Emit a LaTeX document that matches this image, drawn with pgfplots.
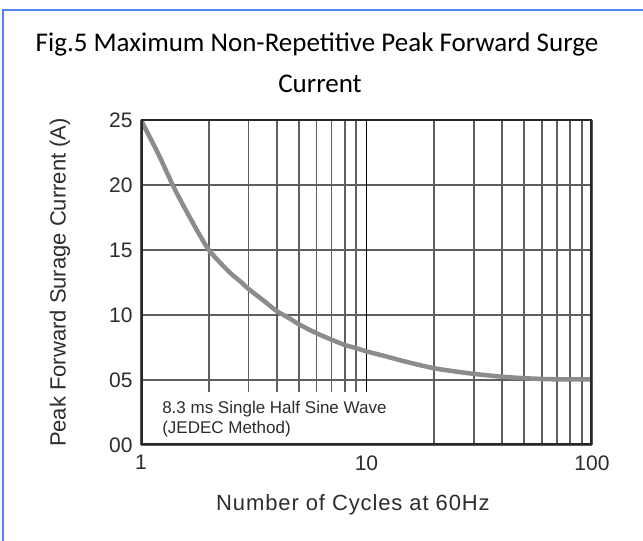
\documentclass[border=0pt]{standalone}
\usepackage{pgfplots}
\pgfplotsset{compat=1.18}
\usepackage{fontspec}
\setmainfont{Liberation Sans}
\newfontfamily\titlefont{Carlito}
\newfontfamily\spacedfont[LetterSpace=4]{Liberation Sans}
\definecolor{framblue}{RGB}{80,130,240}
\definecolor{gridgray}{RGB}{95,95,95}
\definecolor{curvegray}{RGB}{140,140,140}
\definecolor{txtgray}{RGB}{45,45,45}
\begin{document}
\begin{tikzpicture}[x=1pt,y=1pt]
\useasboundingbox (0,0) rectangle (643,541);
\fill[white] (0,0) rectangle (643,541);
% blue frame
\draw[framblue, line width=2pt] (3,0) -- (3,531) -- (643,531);
% title
\node[anchor=base, inner sep=0pt, font=\titlefont\fontsize{27}{30}\selectfont] at (317,489) {Fig.5 Maximum Non-Repetitive Peak Forward Surge};
\node[anchor=base, inner sep=0pt, font=\titlefont\fontsize{27}{30}\selectfont] at (320,448) {Current};
\begin{axis}[
  at={(141pt,96pt)}, anchor=south west,
  scale only axis, width=451pt, height=325pt,
  xmode=log, log basis x=10,
  xmin=1, xmax=100, ymin=0, ymax=25,
  xtick={1,10,100}, xticklabels={1,10,100},
  minor xtick={2,3,4,5,6,7,8,9,20,30,40,50,60,70,80,90},
  ytick={0,5,10,15,20,25}, yticklabels={00,05,10,15,20,25},
  major tick length=0pt, minor tick length=0pt,
  xmajorgrids, xminorgrids, ymajorgrids,
  major grid style={color=gridgray, line width=1.8pt},
  minor grid style={color=gridgray, line width=1.8pt},
  axis line style={draw=none},
  /pgf/number format/assume math mode=true,
  tick label style={font=\fontsize{21}{25}\selectfont, text=txtgray},
  xticklabel style={yshift=-7pt},
  yticklabel style={xshift=-5pt},
  xlabel={Number of Cycles at 60Hz},
  ylabel={Peak Forward Surage Current (A)},
  label style={font=\fontsize{22}{26}\selectfont, text=txtgray},
  xlabel style={font=\spacedfont\fontsize{22}{26}\selectfont, at={(axis description cs:0.47,-0.1846)}, anchor=center},
  ylabel style={at={(axis description cs:-0.1796,0.5)}, anchor=center},
]
% darker line at 10
\draw[black, line width=1.9pt] (axis cs:10,0) -- (axis cs:10,25);
% white legend box
\fill[white] (axis cs:1.04,0.15) rectangle (axis cs:13.2,4.08);
\node[anchor=base west, inner sep=0pt, font=\fontsize{17}{20}\selectfont, text=txtgray] at (axis cs:1.24,2.46) {8.3 ms Single Half Sine Wave};
\node[anchor=base west, inner sep=0pt, font=\fontsize{17}{20}\selectfont, text=txtgray] at (axis cs:1.24,0.85) {(JEDEC Method)};
\addplot[curvegray, line width=4.5pt, smooth] coordinates {
(1,25) (1.1,23.6) (1.2,22.3) (1.3,21.0) (1.4,19.8) (1.5,18.8) (1.6,17.9) (1.8,16.3) (2,15) (2.25,14) (2.5,13.2) (2.75,12.6) (3,12) (3.5,11.1) (4,10.3) (4.5,9.8) (5,9.3) (6,8.6) (7,8.1) (8,7.7) (9,7.45) (10,7.2) (12,6.85) (15,6.4) (20,5.9) (25,5.65) (30,5.47) (40,5.25) (50,5.14) (60,5.08) (70,5.05) (80,5.05) (100,5.05)
};
% frame
\draw[black!85, line width=4.5pt] (rel axis cs:0,-0.005) -- (rel axis cs:0,1.003);
\draw[black!85, line width=3.5pt] (rel axis cs:0,0) -- (rel axis cs:1,0);
\draw[black!85, line width=2.2pt] (rel axis cs:0,1) -- (rel axis cs:1,1);
\draw[black!85, line width=3.5pt] (rel axis cs:1,0) -- (rel axis cs:1,1);
\end{axis}
\end{tikzpicture}
\end{document}
